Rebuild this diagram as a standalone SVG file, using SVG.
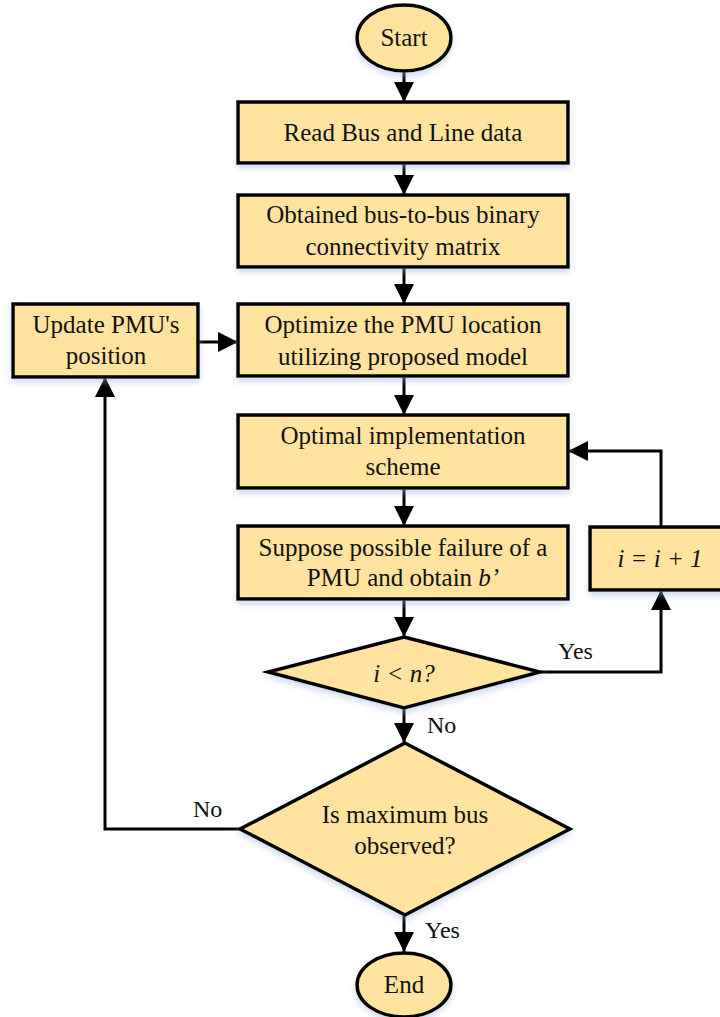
<svg xmlns="http://www.w3.org/2000/svg" width="720" height="1017" viewBox="0 0 720 1017">
  <style>
    text { font-family: 'Times New Roman', 'Liberation Serif', Tinos, 'Noto Serif', 'DejaVu Serif', serif; }
    .shape { fill: #FFE39E; stroke: #000; stroke-width: 3.5; filter: url(#soft); }
    .lbl { font-size: 25px; fill: #111; text-anchor: middle; }
    .it { font-style: italic; }
    .tag { font-size: 24px; fill: #111; }
    .wire { fill: none; stroke: #000; stroke-width: 3; }
  </style>
  <defs>
    <filter id="soft" x="-10%" y="-10%" width="120%" height="140%">
      <feDropShadow dx="0" dy="4" stdDeviation="3" flood-color="#9fb4d6" flood-opacity="0.45"/>
    </filter>
    <marker id="arrow" viewBox="0 0 20 20" refX="20" refY="10" markerWidth="20" markerHeight="20" markerUnits="userSpaceOnUse" orient="auto">
      <path d="M0,0 L20,10 L0,20 Z" fill="#000"/>
    </marker>
  </defs>
  <rect width="720" height="1017" fill="#fff"/>

  <g id="connectors">
    <line class="wire" x1="404" y1="71" x2="404" y2="102" marker-end="url(#arrow)"/>
    <line class="wire" x1="404" y1="163" x2="404" y2="195" marker-end="url(#arrow)"/>
    <line class="wire" x1="404" y1="267" x2="404" y2="304" marker-end="url(#arrow)"/>
    <line class="wire" x1="404" y1="376" x2="404" y2="415" marker-end="url(#arrow)"/>
    <line class="wire" x1="404" y1="488" x2="404" y2="526" marker-end="url(#arrow)"/>
    <line class="wire" x1="404" y1="599" x2="404" y2="637" marker-end="url(#arrow)"/>
    <line class="wire" x1="404" y1="708" x2="404" y2="743" marker-end="url(#arrow)"/>
    <line class="wire" x1="404" y1="915" x2="404" y2="952" marker-end="url(#arrow)"/>
    <line class="wire" x1="198" y1="342" x2="238" y2="342" marker-end="url(#arrow)"/>
    <polyline class="wire" points="540,672 661,672 661,590" marker-end="url(#arrow)"/>
    <polyline class="wire" points="661,527 661,451 568,451" marker-end="url(#arrow)"/>
    <polyline class="wire" points="240,829 105,829 105,377" marker-end="url(#arrow)"/>
    <text class="tag" x="558" y="659">Yes</text>
    <text class="tag" x="427" y="733">No</text>
    <text class="tag" x="193" y="817">No</text>
    <text class="tag" x="425" y="938">Yes</text>
  </g>

  <g id="start">
    <ellipse class="shape" cx="404" cy="38" rx="47" ry="33"/>
    <text class="lbl" x="404" y="46">Start</text>
  </g>

  <g id="read-data">
    <rect class="shape" x="238" y="102" width="330" height="61"/>
    <text class="lbl" x="403" y="141">Read Bus and Line data</text>
  </g>

  <g id="connectivity">
    <rect class="shape" x="238" y="195" width="330" height="72"/>
    <text class="lbl" x="403" y="223">Obtained bus-to-bus binary</text>
    <text class="lbl" x="403" y="255">connectivity matrix</text>
  </g>

  <g id="optimize">
    <rect class="shape" x="238" y="304" width="330" height="72"/>
    <text class="lbl" x="403" y="333">Optimize the PMU location</text>
    <text class="lbl" x="403" y="365">utilizing proposed model</text>
  </g>

  <g id="update">
    <rect class="shape" x="13" y="304" width="185" height="73"/>
    <text class="lbl" x="106" y="333">Update PMU's</text>
    <text class="lbl" x="106" y="364">position</text>
  </g>

  <g id="scheme">
    <rect class="shape" x="238" y="415" width="330" height="73"/>
    <text class="lbl" x="403" y="444">Optimal implementation</text>
    <text class="lbl" x="403" y="475">scheme</text>
  </g>

  <g id="failure">
    <rect class="shape" x="238" y="526" width="330" height="73"/>
    <text class="lbl" x="403" y="556">Suppose possible failure of a</text>
    <text class="lbl" x="403" y="586">PMU and obtain <tspan class="it">b’</tspan></text>
  </g>

  <g id="increment">
    <rect class="shape" x="590" y="527" width="150" height="63"/>
    <text class="lbl it" x="660" y="567">i = i + 1</text>
  </g>

  <g id="check-i">
    <polygon class="shape" points="404,637 540,672 404,708 268,672"/>
    <text class="lbl it" x="404" y="682">i &lt; n?</text>
  </g>

  <g id="check-observed">
    <polygon class="shape" points="405,743 570,829 405,915 240,829"/>
    <text class="lbl" x="405" y="823">Is maximum bus</text>
    <text class="lbl" x="405" y="854">observed?</text>
  </g>

  <g id="end">
    <ellipse class="shape" cx="404" cy="985" rx="47" ry="32"/>
    <text class="lbl" x="404" y="993">End</text>
  </g>
</svg>
